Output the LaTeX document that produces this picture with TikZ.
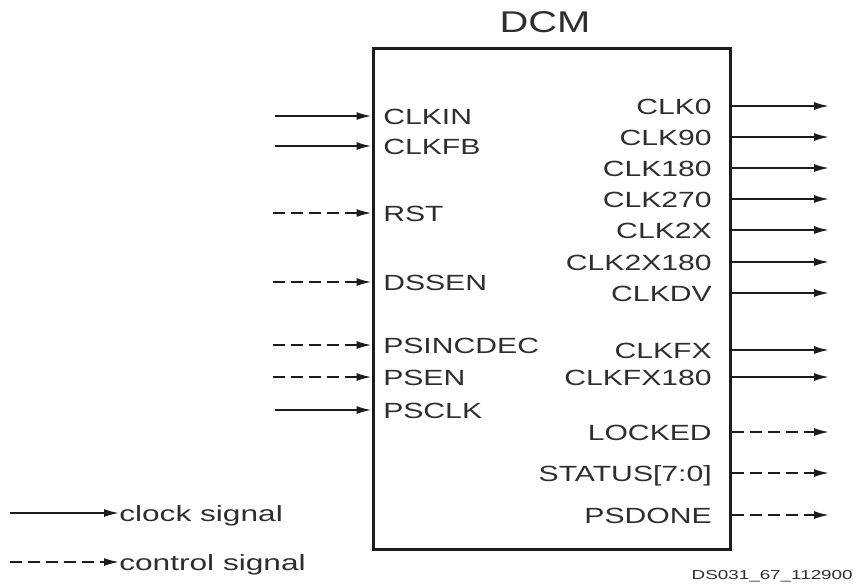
\documentclass[tikz,border=0pt]{standalone}
\usepackage{fontspec}
\setmainfont{Liberation Sans}
\usepackage{xcolor}
\definecolor{cLine}{HTML}{1C1C1C}
\definecolor{cText}{HTML}{2E2E2E}
\usetikzlibrary{positioning,arrows.meta,calc}
\tikzset{
  dcm-box/.style={draw=cLine,line width=3pt,minimum width=357pt,
    minimum height=501pt,inner sep=0pt},
  pin-lbl/.style={font=\fontsize{22}{24}\selectfont,text=cText,xscale=1.37,
    inner sep=0pt,text height=16pt,text depth=0pt},
  pin-in/.style={pin-lbl,anchor=west},
  pin-out/.style={pin-lbl,anchor=east},
  % clock = solid, control = dashed
  arrow-clk/.style={-{Latex[length=15pt,width=8pt]},line width=1.8pt,draw=cLine},
  arrow-ctl/.style={arrow-clk,dash pattern=on 12pt off 6pt},
}

\begin{document}
\begin{tikzpicture}[x=1pt,y=-1pt]
  \useasboundingbox (0,0) rectangle (853,587);

  \node[dcm-box] (dcm) at (551.5,298.5) {};
  \node[font=\fontsize{30}{32}\selectfont,text=cText,xscale=1.33] (title) at (545,22) {DCM};

  % inputs
  \node[pin-in] (clkin)    at (383,116) {CLKIN};
  \node[pin-in] (clkfb)    at (383,146) {CLKFB};
  \node[pin-in] (rst)      at (383,213) {RST};
  \node[pin-in] (dssen)    at (383,282) {DSSEN};
  \node[pin-in] (psincdec) at (383,345) {PSINCDEC};
  \node[pin-in] (psen)     at (383,377) {PSEN};
  \node[pin-in] (psclk)    at (383,410) {PSCLK};
  \coordinate (clkin-src)    at (275,116);
  \coordinate (clkfb-src)    at (275,146);
  \coordinate (rst-src)      at (273,213);
  \coordinate (dssen-src)    at (273,282);
  \coordinate (psincdec-src) at (273,345);
  \coordinate (psen-src)     at (273,377);
  \coordinate (psclk-src)    at (275,410);
  \draw[arrow-clk] (clkin-src)    -- (clkin-src -| dcm.west);
  \draw[arrow-clk] (clkfb-src)    -- (clkfb-src -| dcm.west);
  \draw[arrow-ctl] (rst-src)      -- (rst-src -| dcm.west);
  \draw[arrow-ctl] (dssen-src)    -- (dssen-src -| dcm.west);
  \draw[arrow-ctl] (psincdec-src) -- (psincdec-src -| dcm.west);
  \draw[arrow-ctl] (psen-src)     -- (psen-src -| dcm.west);
  \draw[arrow-clk] (psclk-src)    -- (psclk-src -| dcm.west);

  % outputs
  \node[pin-out] (clk0)     at (712,106) {CLK0};
  \node[pin-out] (clk90)    at (712,137) {CLK90};
  \node[pin-out] (clk180)   at (712,168) {CLK180};
  \node[pin-out] (clk270)   at (712,199) {CLK270};
  \node[pin-out] (clk2x)    at (712,230) {CLK2X};
  \node[pin-out] (clk2x180) at (712,262) {CLK2X180};
  \node[pin-out] (clkdv)    at (712,293) {CLKDV};
  \node[pin-out] (clkfx)    at (712,350) {CLKFX};
  \node[pin-out] (clkfx180) at (712,377) {CLKFX180};
  \node[pin-out] (locked)   at (712,432) {LOCKED};
  \node[pin-out] (status)   at (712,473) {STATUS[7:0]};
  \node[pin-out] (psdone)   at (712,515) {PSDONE};
  \coordinate (clk0-dst)     at (829,106);
  \coordinate (clk90-dst)    at (829,137);
  \coordinate (clk180-dst)   at (829,168);
  \coordinate (clk270-dst)   at (829,199);
  \coordinate (clk2x-dst)    at (829,230);
  \coordinate (clk2x180-dst) at (829,262);
  \coordinate (clkdv-dst)    at (829,293);
  \coordinate (clkfx-dst)    at (829,350);
  \coordinate (clkfx180-dst) at (829,377);
  \coordinate (locked-dst)   at (829,432);
  \coordinate (status-dst)   at (829,473);
  \coordinate (psdone-dst)   at (829,515);
  \draw[arrow-clk] (clk0-dst -| dcm.east)     -- (clk0-dst);
  \draw[arrow-clk] (clk90-dst -| dcm.east)    -- (clk90-dst);
  \draw[arrow-clk] (clk180-dst -| dcm.east)   -- (clk180-dst);
  \draw[arrow-clk] (clk270-dst -| dcm.east)   -- (clk270-dst);
  \draw[arrow-clk] (clk2x-dst -| dcm.east)    -- (clk2x-dst);
  \draw[arrow-clk] (clk2x180-dst -| dcm.east) -- (clk2x180-dst);
  \draw[arrow-clk] (clkdv-dst -| dcm.east)    -- (clkdv-dst);
  \draw[arrow-clk] (clkfx-dst -| dcm.east)    -- (clkfx-dst);
  \draw[arrow-clk] (clkfx180-dst -| dcm.east) -- (clkfx180-dst);
  \draw[arrow-ctl] (locked-dst -| dcm.east)   -- (locked-dst);
  \draw[arrow-ctl] (status-dst -| dcm.east)   -- (status-dst);
  \draw[arrow-ctl] (psdone-dst -| dcm.east)   -- (psdone-dst);

  % legend
  \node[pin-lbl,anchor=west,xscale=1.05] (lg-clk) at (119,513) {clock signal};
  \node[pin-lbl,anchor=west,xscale=1.05] (lg-ctl) at (119,562) {control signal};
  \coordinate (lg-clk-src) at (10,513);
  \coordinate (lg-ctl-src) at (10,562);
  \draw[arrow-clk] (lg-clk-src) -- (lg-clk.west);
  \draw[arrow-ctl] (lg-ctl-src) -- (lg-ctl.west);

  \node[font=\fontsize{13}{15}\selectfont,text=cText,xscale=1.45,anchor=east,
    inner sep=0pt] (docid) at (853,576) {DS031\_67\_112900};
\end{tikzpicture}
\end{document}
